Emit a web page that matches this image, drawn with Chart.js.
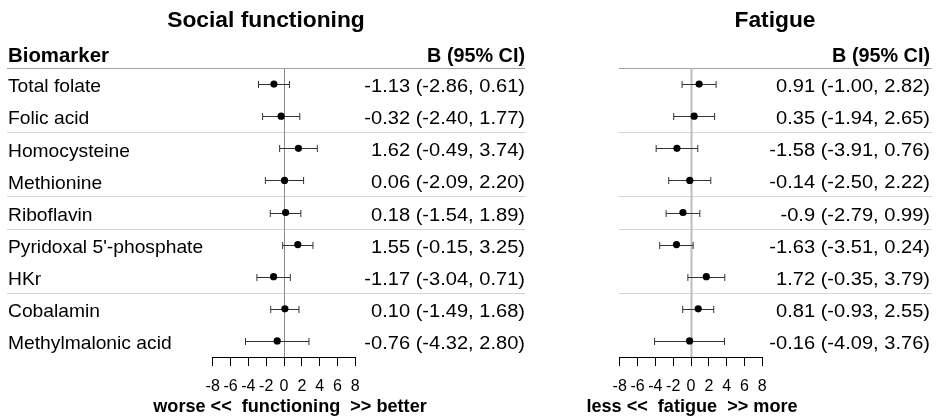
<!DOCTYPE html>
<html>
<head>
<meta charset="utf-8">
<script src="https://cdn.jsdelivr.net/npm/chart.js@4.4.1/dist/chart.umd.min.js"></script>
<style>
  html, body { margin: 0; padding: 0; background: #fff; }
  #wrap { position: relative; width: 937px; height: 418px; overflow: hidden; }
  #social { position: absolute; left: 0; top: 0; }
  #fatigue { position: absolute; left: 530px; top: 0; }
</style>
</head>
<body>
<div id="wrap">
  <canvas id="social" width="530" height="418"></canvas>
  <canvas id="fatigue" width="407" height="418"></canvas>
</div>
<script>
// rows, top to bottom
const biomarkers = [
  'Total folate', 'Folic acid', 'Homocysteine', 'Methionine', 'Riboflavin',
  "Pyridoxal 5'-phosphate", 'HKr', 'Cobalamin', 'Methylmalonic acid'
];

// social functioning: B and 95% CI
const socialB  = [-1.13, -0.32, 1.62, 0.06, 0.18, 1.55, -1.17, 0.10, -0.76];
const socialLo = [-2.86, -2.40, -0.49, -2.09, -1.54, -0.15, -3.04, -1.49, -4.32];
const socialHi = [0.61, 1.77, 3.74, 2.20, 1.89, 3.25, 0.71, 1.68, 2.80];
const socialText = [
  '-1.13 (-2.86, 0.61)', '-0.32 (-2.40, 1.77)', '1.62 (-0.49, 3.74)',
  '0.06 (-2.09, 2.20)', '0.18 (-1.54, 1.89)', '1.55 (-0.15, 3.25)',
  '-1.17 (-3.04, 0.71)', '0.10 (-1.49, 1.68)', '-0.76 (-4.32, 2.80)'
];

// fatigue: B and 95% CI
const fatigueB  = [0.91, 0.35, -1.58, -0.14, -0.9, -1.63, 1.72, 0.81, -0.16];
const fatigueLo = [-1.00, -1.94, -3.91, -2.50, -2.79, -3.51, -0.35, -0.93, -4.09];
const fatigueHi = [2.82, 2.65, 0.76, 2.22, 0.99, 0.24, 3.79, 2.55, 3.76];
const fatigueText = [
  '0.91 (-1.00, 2.82)', '0.35 (-1.94, 2.65)', '-1.58 (-3.91, 0.76)',
  '-0.14 (-2.50, 2.22)', '-0.9 (-2.79, 0.99)', '-1.63 (-3.51, 0.24)',
  '1.72 (-0.35, 3.79)', '0.81 (-0.93, 2.55)', '-0.16 (-4.09, 3.76)'
];

const xTicks = [-8, -6, -4, -2, 0, 2, 4, 6, 8];
const rulesAfter = [1, 3, 4, 6]; // light rule below these rows

const FONT = "'Liberation Sans', Arial, sans-serif";

// text slightly stretched sideways, like the wide hinted Arial of the original
function wideText(ctx, text, x, y, align, font, sx) {
  ctx.save();
  ctx.font = font;
  ctx.textAlign = align;
  ctx.translate(x, y);
  ctx.scale(sx, 1);
  ctx.fillText(text, 0, 0);
  ctx.restore();
}

// draws rules, error bars and all the table text around the plot
const forestPlugin = {
  id: 'forest',
  beforeDatasetsDraw(chart, args, o) {
    const { ctx, chartArea, scales: { x, y } } = chart;
    const step = y.getPixelForValue(1) - y.getPixelForValue(0);
    const hline = (py, color) => {
      ctx.strokeStyle = color;
      ctx.beginPath();
      ctx.moveTo(o.ruleLeft, Math.round(py) + 0.5);
      ctx.lineTo(o.ruleRight, Math.round(py) + 0.5);
      ctx.stroke();
    };
    ctx.save();
    ctx.lineWidth = 1;
    hline(chartArea.top, '#a0a0a0');
    rulesAfter.forEach(i => hline(y.getPixelForValue(i) + step / 2, '#d4d4d4'));

    // reference line at zero
    const x0 = x.getPixelForValue(0);
    ctx.strokeStyle = o.zeroColor;
    ctx.lineWidth = o.zeroWidth;
    ctx.beginPath();
    ctx.moveTo(Math.round(x0) + 0.5, chartArea.top);
    ctx.lineTo(Math.round(x0) + 0.5, chartArea.bottom);
    ctx.stroke();

    // confidence intervals
    ctx.strokeStyle = '#333';
    ctx.lineWidth = 1;
    o.lo.forEach((lo, i) => {
      const py = Math.round(y.getPixelForValue(i)) + 0.5;
      const a = x.getPixelForValue(lo);
      const b = x.getPixelForValue(o.hi[i]);
      ctx.beginPath();
      ctx.moveTo(a, py); ctx.lineTo(b, py);
      ctx.moveTo(a, py - 3.5); ctx.lineTo(a, py + 3.5);
      ctx.moveTo(b, py - 3.5); ctx.lineTo(b, py + 3.5);
      ctx.stroke();
    });
    ctx.restore();
  },
  afterDraw(chart, args, o) {
    const { ctx, scales: { y } } = chart;
    ctx.save();
    ctx.fillStyle = '#000';
    ctx.textBaseline = 'alphabetic';

    wideText(ctx, o.title, o.titleX, 27, 'center', `bold 22.8px ${FONT}`, 1);

    if (o.showNames) wideText(ctx, 'Biomarker', 8, 62, 'left', `bold 20px ${FONT}`, 1.02);
    wideText(ctx, 'B (95% CI)', o.textRight, 62, 'right', `bold 20px ${FONT}`, 0.99);

    biomarkers.forEach((name, i) => {
      const py = y.getPixelForValue(i);
      if (o.showNames) wideText(ctx, name, 8, py + 8.3, 'left', `18.5px ${FONT}`, 1.04);
      wideText(ctx, o.ci[i], o.textRight, py + 8, 'right', `18px ${FONT}`, 1.115);
    });

    wideText(ctx, o.axisTitle, o.axisTitleX, 412, 'center', `bold 18.1px ${FONT}`, 1);
    ctx.restore();
  }
};

function forest(canvasId, est, lo, hi, ci, opts) {
  const ctx = document.getElementById(canvasId);
  return new Chart(ctx, {
    type: 'scatter',
    data: {
      labels: biomarkers,
      datasets: [{
        data: est.map((v, i) => ({ x: v, y: biomarkers[i] })),
        backgroundColor: '#000',
        borderWidth: 0,
        pointRadius: 3.6
      }]
    },
    plugins: [forestPlugin],
    options: {
      responsive: false,
      animation: false,
      layout: { padding: { left: opts.padLeft, right: opts.padRight, top: 68, bottom: 0 } },
      plugins: {
        legend: { display: false },
        tooltip: { enabled: false },
        forest: Object.assign({ lo, hi, ci }, opts)
      },
      scales: {
        x: {
          type: 'linear',
          min: -8,
          max: 8,
          afterBuildTicks: s => { s.ticks = xTicks.map(v => ({ value: v })); },
          afterFit: s => { s.height = 61; },
          border: { display: true, color: '#000', width: 1 },
          grid: { drawOnChartArea: false, drawTicks: true, tickLength: 9, tickColor: '#000', color: '#000' },
          ticks: { color: '#000', padding: 11, maxRotation: 0, autoSkip: false, font: { family: FONT, size: 16 } }
        },
        y: {
          type: 'category',
          offset: true,
          display: false
        }
      }
    }
  });
}

forest('social', socialB, socialLo, socialHi, socialText, {
  padLeft: 212.7, padRight: 174.7,
  title: 'Social functioning', titleX: 266,
  showNames: true, textRight: 525, ruleLeft: 7, ruleRight: 525,
  axisTitle: 'worse <<  functioning  >> better', axisTitleX: 290,
  zeroColor: '#8c8c8c', zeroWidth: 1
});

forest('fatigue', fatigueB, fatigueLo, fatigueHi, fatigueText, {
  padLeft: 89.7, padRight: 174.7,
  title: 'Fatigue', titleX: 245,
  showNames: false, textRight: 400, ruleLeft: 89, ruleRight: 402,
  axisTitle: 'less <<  fatigue  >> more', axisTitleX: 162,
  zeroColor: '#bdbdbd', zeroWidth: 2
});
</script>
</body>
</html>
